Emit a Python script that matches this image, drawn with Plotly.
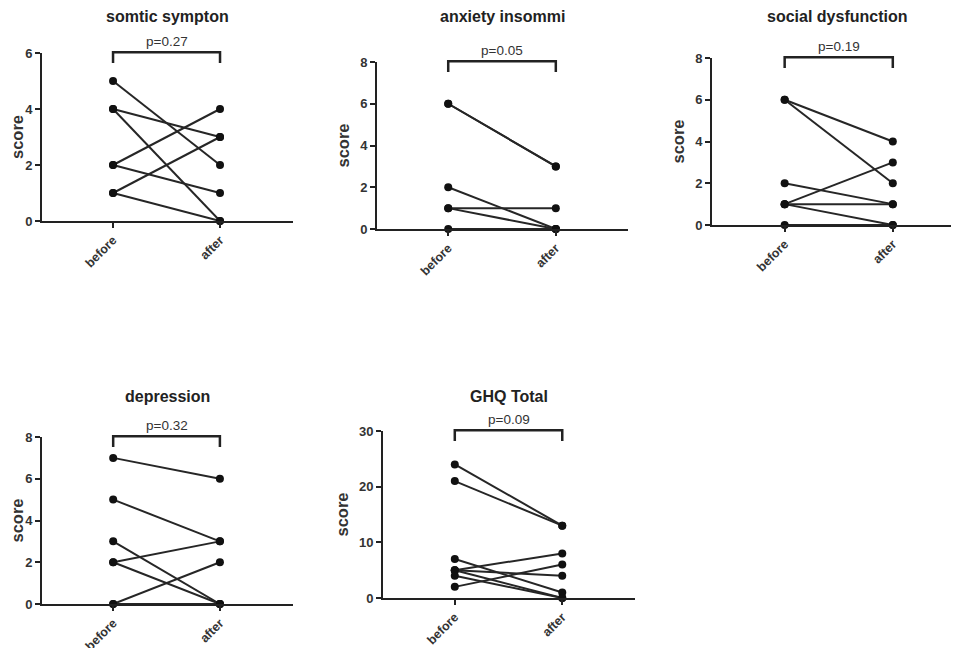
import plotly.graph_objects as go

# ---------------- data ----------------
panel_titles = ["somtic sympton", "anxiety insommi", "social dysfunction", "depression", "GHQ Total"]
p_labels = ["p=0.27", "p=0.05", "p=0.19", "p=0.32", "p=0.09"]
x_labels = ["before", "after"]

somatic_before = [5, 4, 4, 2, 2, 1, 1]
somatic_after = [2, 3, 0, 4, 1, 3, 0]

anxiety_before = [6, 6, 2, 1, 1, 0]
anxiety_after = [3, 3, 0, 1, 0, 0]

social_before = [6, 6, 2, 1, 1, 1, 0]
social_after = [4, 2, 1, 3, 1, 0, 0]

depression_before = [7, 5, 3, 2, 2, 0, 0]
depression_after = [6, 3, 0, 3, 0, 2, 0]

ghq_before = [24, 21, 7, 5, 5, 5, 4, 2]
ghq_after = [13, 13, 1, 8, 4, 0, 0, 6]

y_max = [6, 8, 8, 8, 30]
y_dtick = [2, 2, 2, 2, 10]

befores = [somatic_before, anxiety_before, social_before, depression_before, ghq_before]
afters = [somatic_after, anxiety_after, social_after, depression_after, ghq_after]

# ---------------- layout geometry (pixels in the screenshot) ----------------
W, H = 959, 648
OFF = 8  # page body margin offsets the figure
# (left, right, top, bottom) of each plot area in px
boxes = [
    (42, 293, 53, 221),
    (377, 628, 62, 229),
    (712, 962, 58, 225),
    (42, 293, 437, 604),
    (383, 635, 431, 598),
]
x_ranges = [
    [-0.664, 1.682],
    [-0.662, 1.671],
    [-0.672, 1.64],
    [-0.667, 1.685],
    [-0.668, 1.677],
]
title_y = [17, 17, 17, 396, 396]


def fx(px):
    return (px - OFF) / W


def fy(py):
    return 1 - (py - OFF) / H


FONT = "Liberation Sans, Arial, sans-serif"
DARK = "#222222"
LINE = "#262626"

fig = go.Figure()
layout = dict(
    width=W, height=H,
    margin=dict(l=0, r=0, t=0, b=0, autoexpand=False),
    paper_bgcolor="white", plot_bgcolor="white",
    showlegend=False,
    font=dict(family=FONT, color=DARK),
)
shapes = []
annotations = []

for i in range(5):
    n = i + 1
    xa = "x" if n == 1 else f"x{n}"
    ya = "y" if n == 1 else f"y{n}"
    l, r, t, b = boxes[i]
    # one line per subject
    for bv, av in zip(befores[i], afters[i]):
        fig.add_trace(go.Scatter(
            x=[0, 1], y=[bv, av], mode="lines+markers",
            line=dict(color=LINE, width=2),
            marker=dict(color="#111111", size=8),
            cliponaxis=False, xaxis=xa, yaxis=ya, hoverinfo="skip",
        ))
    xkey = "xaxis" if n == 1 else f"xaxis{n}"
    ykey = "yaxis" if n == 1 else f"yaxis{n}"
    layout[xkey] = dict(
        domain=[fx(l), min(fx(r), 1.0)],
        anchor=ya, range=x_ranges[i], automargin=False,
        tickvals=[0, 1], ticktext=x_labels, tickangle=-45,
        showline=True, linecolor=DARK, linewidth=2,
        ticks="outside", ticklen=5, tickwidth=1.5, tickcolor=DARK,
        showgrid=False, zeroline=False,
        tickfont=dict(family=FONT, size=12.5, color="#333333", weight="bold"),
        fixedrange=True,
    )
    layout[ykey] = dict(
        domain=[fy(b), fy(t)],
        anchor=xa, range=[0, y_max[i]], dtick=y_dtick[i], tick0=0, automargin=False,
        showline=True, linecolor=DARK, linewidth=2,
        ticks="outside", ticklen=5, tickwidth=1.5, tickcolor=DARK,
        showgrid=False, zeroline=False,
        tickfont=dict(family=FONT, size=13, color="#333333", weight="bold"),
        title=dict(text="score", standoff=6,
                   font=dict(family=FONT, size=16.5, color="#333333", weight="bold")),
        fixedrange=True,
    )
    # significance bracket
    shapes.append(dict(
        type="path", xref=xa, yref=f"{ya} domain",
        path="M 0,0.94 L 0,1.005 L 1,1.005 L 1,0.94",
        line=dict(color=DARK, width=2.5),
    ))
    annotations.append(dict(
        text=p_labels[i], xref=xa, yref=f"{ya} domain", x=0.5, y=1.005,
        xanchor="center", yanchor="bottom", yshift=1, showarrow=False,
        font=dict(family=FONT, size=13.5, color="#333333"),
    ))
    annotations.append(dict(
        text=f"<b>{panel_titles[i]}</b>", xref=f"{xa} domain", yref="paper",
        x=0.5 if i != 2 else 0.5, y=fy(title_y[i]),
        xanchor="center", yanchor="middle", showarrow=False,
        font=dict(family=FONT, size=16, color="#222222"),
    ))

layout["shapes"] = shapes
layout["annotations"] = annotations
fig.update_layout(**layout)
fig.write_html("out.html")
